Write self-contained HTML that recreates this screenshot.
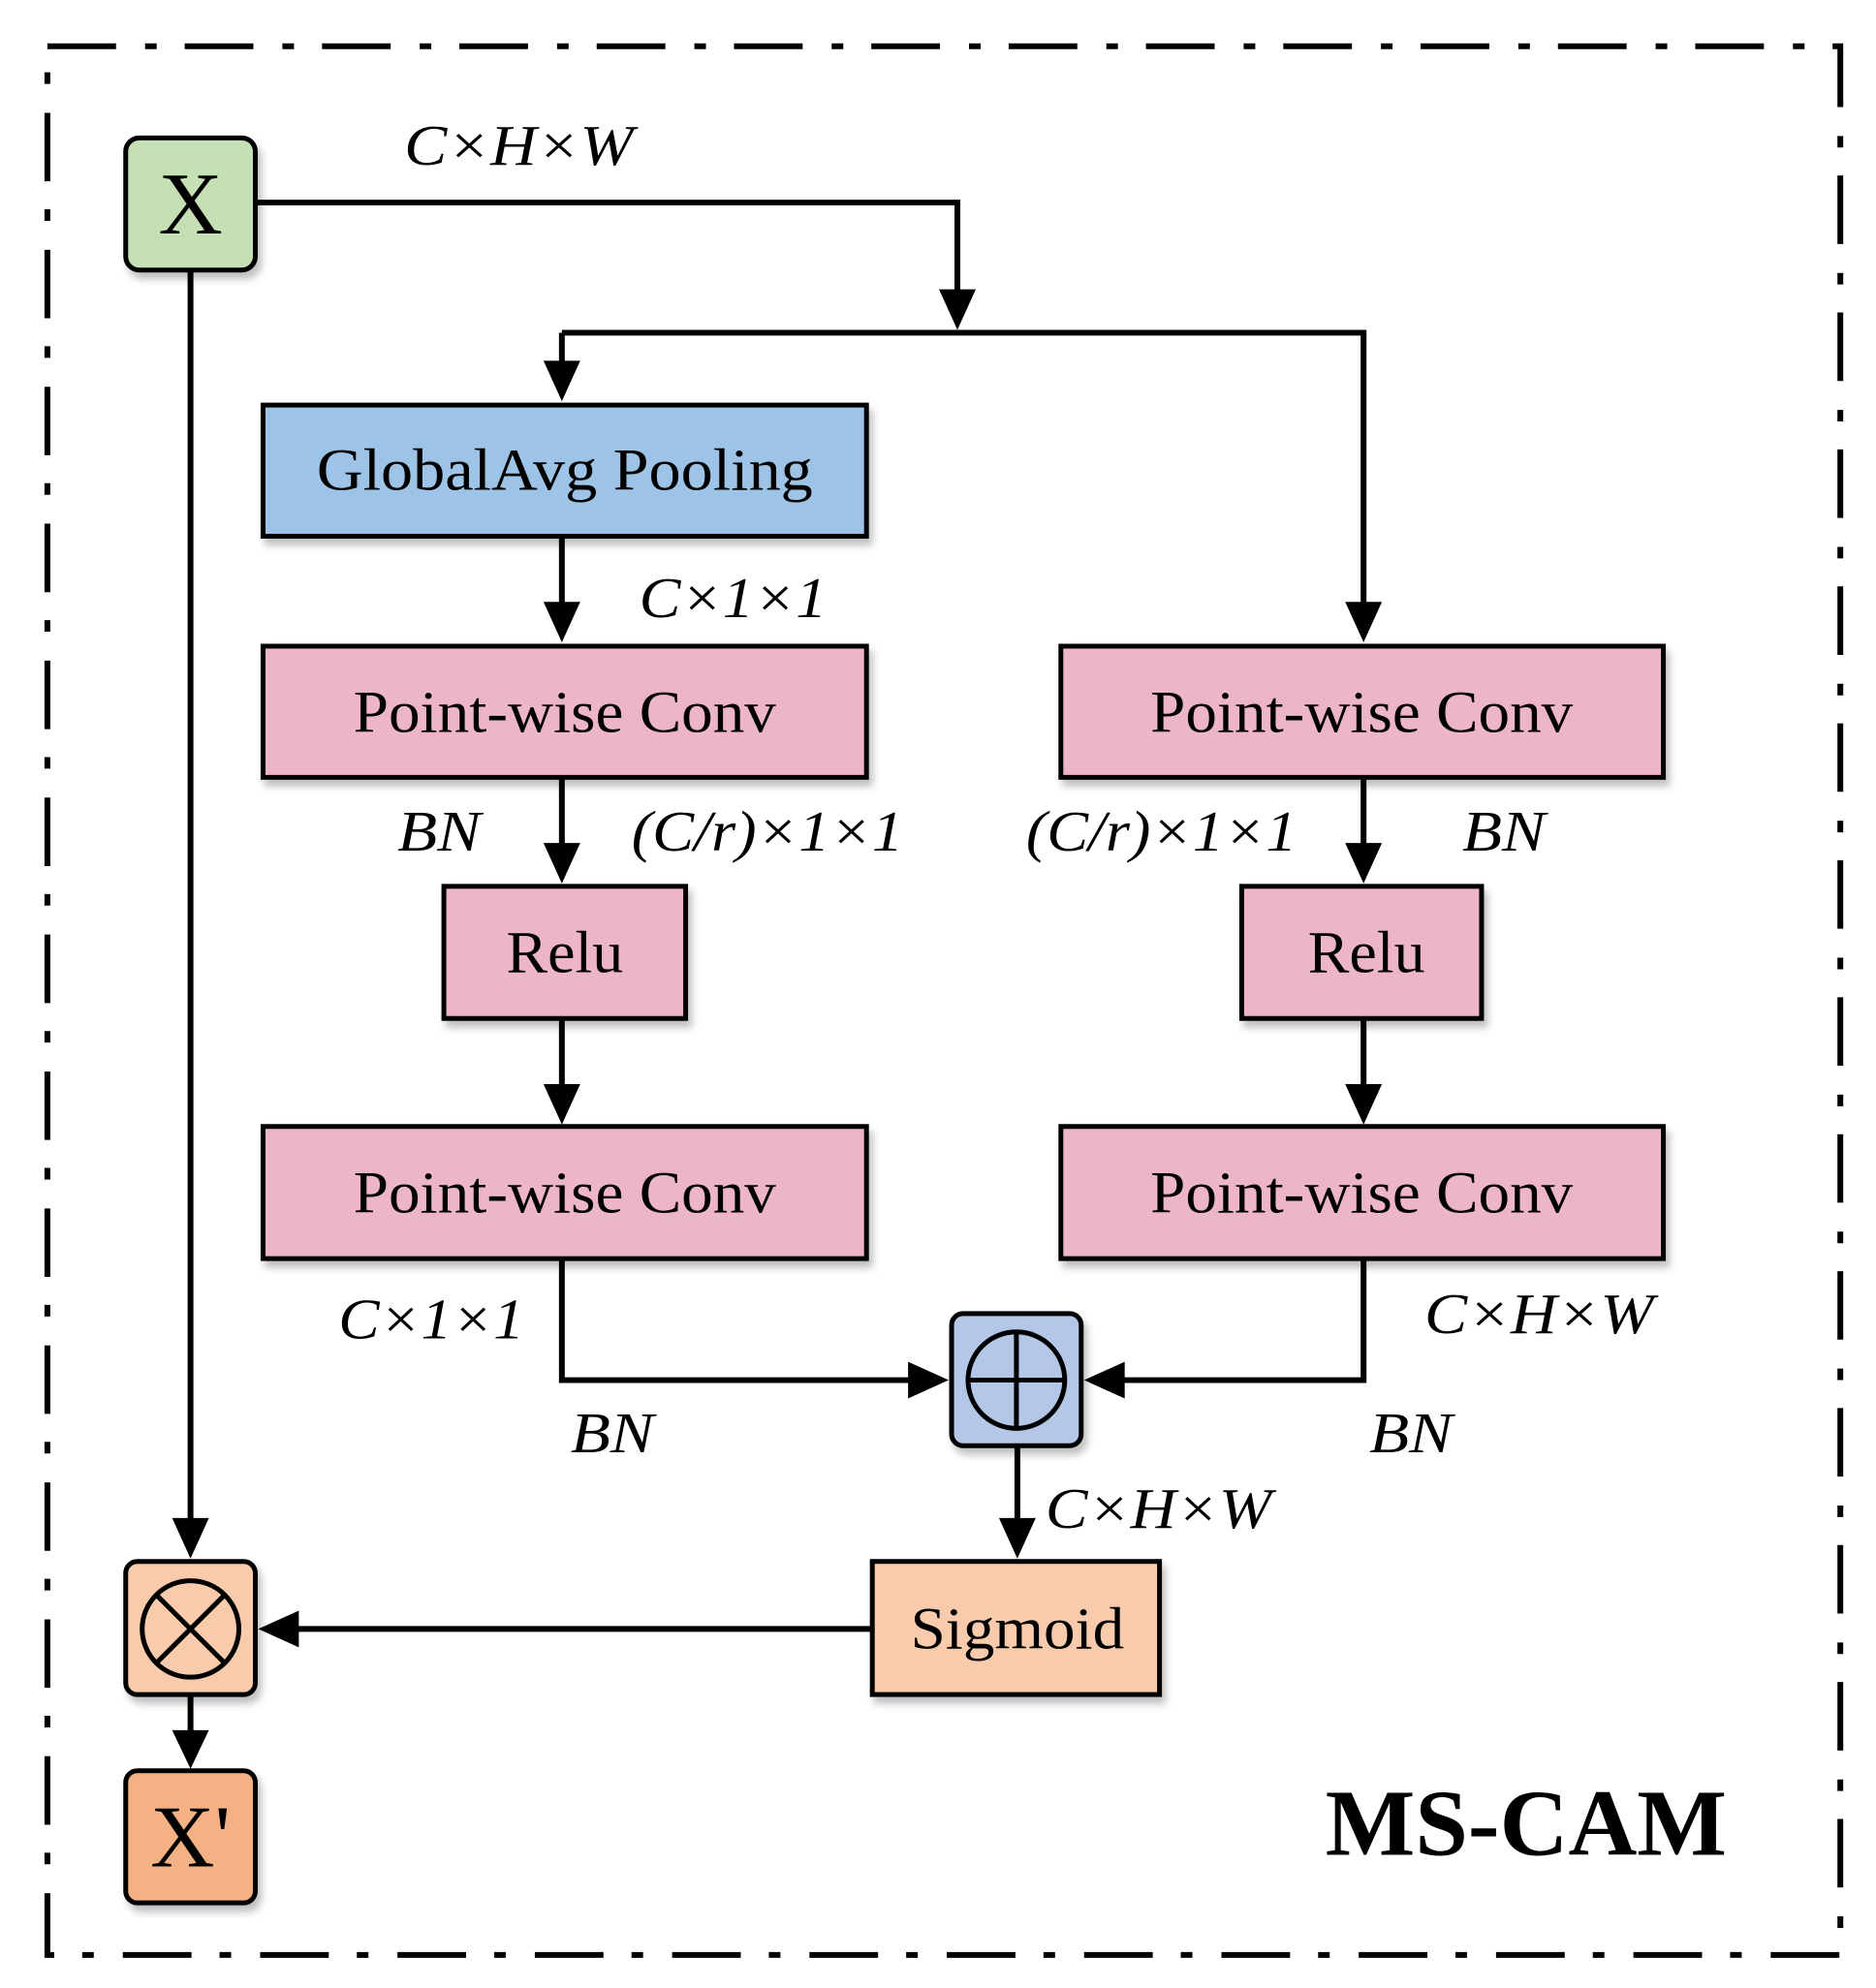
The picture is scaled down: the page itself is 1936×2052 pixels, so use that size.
<!DOCTYPE html>
<html><head><meta charset="utf-8"><style>html,body{margin:0;padding:0;background:#fff}svg{display:block}</style></head>
<body>
<svg width="1936" height="2052" viewBox="0 0 1936 2052" xmlns="http://www.w3.org/2000/svg">
<defs>
<filter id="sh" x="-10%" y="-10%" width="130%" height="140%"><feDropShadow dx="4" dy="7" stdDeviation="4" flood-color="#000" flood-opacity="0.25"/></filter>
</defs>
<rect x="0" y="0" width="1936" height="2052" fill="#fff"/>
<g transform="matrix(0.998 0 0 0.9955 0 0)">
<rect x="49" y="48" width="1854" height="1979" fill="none" stroke="#000" stroke-width="6" stroke-dasharray="71 30 12 29"/>

<g stroke="#000" stroke-width="6" fill="none">
<path d="M264 210 H990 V310"/>
<path d="M581 345 H1410 V628"/>
<path d="M581 345 V382"/>
<path d="M581 556 V630"/>
<path d="M581 806 V880"/>
<path d="M581 1056 V1130"/>
<path d="M1410 806 V880"/>
<path d="M1410 1056 V1130"/>
<path d="M581 1305 V1431 H945"/>
<path d="M1410 1305 V1431 H1157"/>
<path d="M1052 1499 V1580"/>
<path d="M902 1689 H303"/>
<path d="M197 280 V1580"/>
<path d="M197 1757 V1798"/>
</g>
<g fill="#000">
<polygon points="971,300 1009,300 990,342"/>
<polygon points="562,374 600,374 581,416"/>
<polygon points="562,624 600,624 581,666"/>
<polygon points="562,874 600,874 581,916"/>
<polygon points="562,1124 600,1124 581,1166"/>
<polygon points="1391,624 1429,624 1410,666"/>
<polygon points="1391,874 1429,874 1410,916"/>
<polygon points="1391,1124 1429,1124 1410,1166"/>
<polygon points="939,1412 939,1450 981,1431"/>
<polygon points="1163,1412 1163,1450 1121,1431"/>
<polygon points="1033,1574 1071,1574 1052,1616"/>
<polygon points="309,1670 309,1708 267,1689"/>
<polygon points="178,1574 216,1574 197,1616"/>
<polygon points="178,1794 216,1794 197,1834"/>
</g>

<g stroke="#000" stroke-width="5" filter="url(#sh)">
<rect x="130" y="143" width="134" height="137" rx="14" fill="#c5e0b4"/>
<rect x="272" y="420" width="624" height="136" fill="#9dc3e6"/>
<rect x="272" y="670" width="624" height="136" fill="#ecb5c8"/>
<rect x="1097" y="670" width="623" height="136" fill="#ecb5c8"/>
<rect x="459" y="919" width="250" height="137" fill="#ecb5c8"/>
<rect x="1284" y="919" width="248" height="137" fill="#ecb5c8"/>
<rect x="272" y="1168" width="624" height="137" fill="#ecb5c8"/>
<rect x="1097" y="1168" width="623" height="137" fill="#ecb5c8"/>
<rect x="984" y="1362" width="134" height="137" rx="12" fill="#b4c7e7"/>
<rect x="902" y="1619" width="297" height="138" fill="#f8cbad"/>
<rect x="130" y="1619" width="134" height="138" rx="12" fill="#f8cbad"/>
<rect x="130" y="1836" width="134" height="137" rx="12" fill="#f4b183"/>
</g>
<g stroke="#000" stroke-width="5" fill="none">
<circle cx="1051" cy="1431" r="50"/>
<path d="M1001 1431 H1101 M1051 1381 V1481"/>
<circle cx="197" cy="1689" r="50"/>
<path d="M162 1654 L232 1724 M232 1654 L162 1724"/>
</g>

<g font-family="Liberation Serif, serif" fill="#000" text-anchor="middle">
<text x="197" y="242" font-size="92">X</text>
<text x="197" y="1935" font-size="92">X'</text>
<text x="584" y="508" font-size="62" textLength="513" lengthAdjust="spacingAndGlyphs">GlobalAvg Pooling</text>
<text x="584" y="759" font-size="62" textLength="437" lengthAdjust="spacingAndGlyphs">Point-wise Conv</text>
<text x="1408" y="759" font-size="62" textLength="437" lengthAdjust="spacingAndGlyphs">Point-wise Conv</text>
<text x="584" y="1257" font-size="62" textLength="437" lengthAdjust="spacingAndGlyphs">Point-wise Conv</text>
<text x="1408" y="1257" font-size="62" textLength="437" lengthAdjust="spacingAndGlyphs">Point-wise Conv</text>
<text x="584" y="1008" font-size="62" textLength="121" lengthAdjust="spacingAndGlyphs">Relu</text>
<text x="1413" y="1008" font-size="62" textLength="121" lengthAdjust="spacingAndGlyphs">Relu</text>
<text x="1052" y="1709" font-size="62" textLength="221" lengthAdjust="spacingAndGlyphs">Sigmoid</text>
<text x="1578" y="1923" font-size="98" font-weight="bold" textLength="415" lengthAdjust="spacingAndGlyphs">MS-CAM</text>
</g>
<g font-family="Liberation Serif, serif" font-style="italic" fill="#000" font-size="60">
<text x="418" y="171" textLength="237" lengthAdjust="spacingAndGlyphs">C×H×W</text>
<text x="661" y="640" textLength="194" lengthAdjust="spacingAndGlyphs">C×1×1</text>
<text x="411" y="882" textLength="86" lengthAdjust="spacingAndGlyphs">BN</text>
<text x="653" y="882" textLength="281" lengthAdjust="spacingAndGlyphs">(C/r)×1×1</text>
<text x="1061" y="882" textLength="280" lengthAdjust="spacingAndGlyphs">(C/r)×1×1</text>
<text x="1512" y="882" textLength="86" lengthAdjust="spacingAndGlyphs">BN</text>
<text x="350" y="1388" textLength="192" lengthAdjust="spacingAndGlyphs">C×1×1</text>
<text x="1473" y="1382" textLength="237" lengthAdjust="spacingAndGlyphs">C×H×W</text>
<text x="590" y="1506" textLength="86" lengthAdjust="spacingAndGlyphs">BN</text>
<text x="1416" y="1506" textLength="86" lengthAdjust="spacingAndGlyphs">BN</text>
<text x="1081" y="1584" textLength="234" lengthAdjust="spacingAndGlyphs">C×H×W</text>
</g>
</g>
</svg>
</body></html>
